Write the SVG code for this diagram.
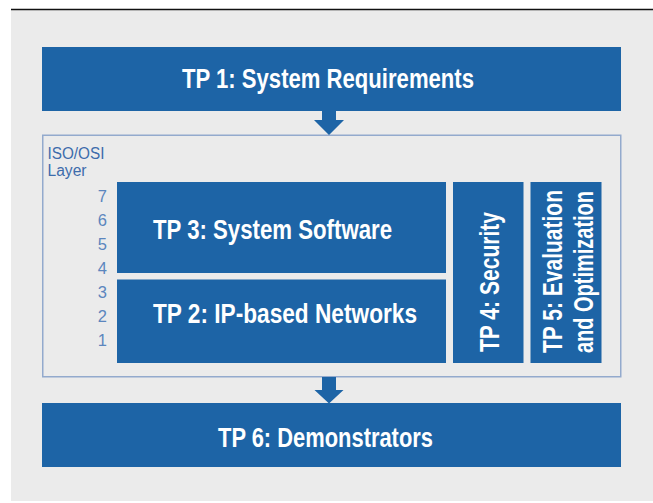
<svg xmlns="http://www.w3.org/2000/svg" width="653" height="503" viewBox="0 0 653 503">
  <style>
    .box { fill: #1d64a6; }
    .lbl { font-family: "Liberation Sans", Arial, sans-serif; font-weight: bold; font-size: 27.5px; fill: #ffffff; }
    .layer { font-family: "Liberation Sans", Arial, sans-serif; font-size: 16px; fill: #3d6cab; }
    .num { font-family: "Liberation Sans", Arial, sans-serif; font-size: 16.5px; fill: #5b86be; text-anchor: end; }
    .arrow { fill: #1d64a6; }
  </style>

  <!-- page -->
  <rect x="0" y="0" width="653" height="503" fill="#ffffff"/>
  <rect x="11" y="10" width="642" height="491" fill="#ebebeb"/>
  <line x1="11" y1="9.5" x2="653" y2="9.5" stroke="#111111" stroke-width="1.5"/>

  <!-- OSI layer frame -->
  <g id="osi-frame">
    <rect x="42.75" y="135.25" width="578" height="241.5" fill="none" stroke="#93aacd" stroke-width="1.5"/>
    <text class="layer" x="47.5" y="158.5" textLength="57" lengthAdjust="spacingAndGlyphs">ISO/OSI</text>
    <text class="layer" x="47.5" y="176" textLength="39" lengthAdjust="spacingAndGlyphs">Layer</text>
    <text class="num" x="107" y="202">7</text>
    <text class="num" x="107" y="226">6</text>
    <text class="num" x="107" y="250">5</text>
    <text class="num" x="107" y="274">4</text>
    <text class="num" x="107" y="298">3</text>
    <text class="num" x="107" y="322">2</text>
    <text class="num" x="107" y="346">1</text>
  </g>

  <!-- work packages -->
  <g id="tp1">
    <rect class="box" x="42" y="47" width="579" height="64"/>
    <text class="lbl" x="182" y="88" font-size="28" textLength="292" lengthAdjust="spacingAndGlyphs">TP 1: System Requirements</text>
  </g>
  <g id="tp3">
    <rect class="box" x="117" y="182" width="329" height="91"/>
    <text class="lbl" x="153" y="238.5" textLength="239" lengthAdjust="spacingAndGlyphs">TP 3: System Software</text>
  </g>
  <g id="tp2">
    <rect class="box" x="117" y="279.5" width="329" height="83.5"/>
    <text class="lbl" x="153" y="323" textLength="264" lengthAdjust="spacingAndGlyphs">TP 2: IP-based Networks</text>
  </g>
  <g id="tp4">
    <rect class="box" x="453" y="182" width="70.5" height="181"/>
    <text class="lbl" transform="translate(498.5,352) rotate(-90)" x="0" y="0" textLength="140" lengthAdjust="spacingAndGlyphs">TP 4: Security</text>
  </g>
  <g id="tp5">
    <rect class="box" x="530.5" y="182" width="71" height="181"/>
    <text class="lbl" transform="translate(562,353) rotate(-90)" x="0" y="0" textLength="163" lengthAdjust="spacingAndGlyphs">TP 5: Evaluation</text>
    <text class="lbl" transform="translate(592.5,353) rotate(-90)" x="0" y="0" textLength="162" lengthAdjust="spacingAndGlyphs">and Optimization</text>
  </g>
  <g id="tp6">
    <rect class="box" x="42" y="403" width="579" height="64"/>
    <text class="lbl" x="218" y="447" textLength="215" lengthAdjust="spacingAndGlyphs">TP 6: Demonstrators</text>
  </g>

  <!-- connectors -->
  <g id="connectors">
    <polygon class="arrow" points="322,111 336,111 336,120 344,120 329,135 314,120 322,120"/>
    <polygon class="arrow" points="322,377 336,377 336,390 343.5,390 329,403.5 314.5,390 322,390"/>
  </g>
</svg>
